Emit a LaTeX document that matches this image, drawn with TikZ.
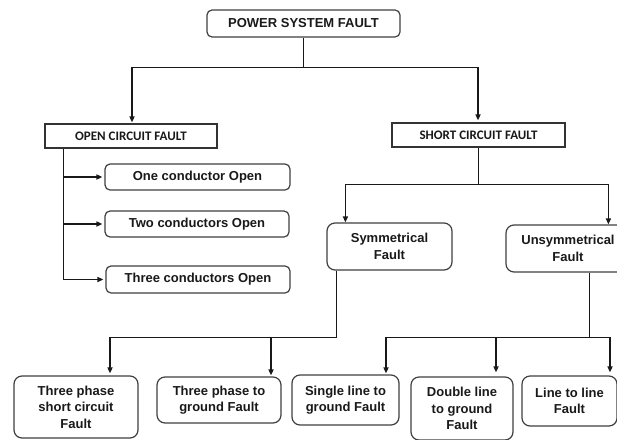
\documentclass[tikz,border=0pt]{standalone}
\usepackage{fontspec}
\setmainfont{Liberation Sans}
\newfontfamily\carlito{Carlito}
\usetikzlibrary{arrows.meta,calc}
\begin{document}
\begin{tikzpicture}[x=1pt,y=-1pt,
  conn/.style={line width=1.5pt,draw=black!90},
  arr/.style={conn,-{Triangle[length=6pt,width=5pt]}},
  rbox/.style={draw=black!75,line width=1.2pt,rounded corners=5pt,align=center,inner sep=0pt,
    font=\fontsize{13}{16.5}\selectfont\bfseries,text=black!90},
  rrbox/.style={rbox,rounded corners=8pt},
  sbox/.style={draw=black!80,line width=1.2pt,inner sep=0pt,
    font=\carlito\fontsize{13}{16}\selectfont\bfseries,text=black!90}]
\useasboundingbox[fill=white] (0,0) rectangle (617,439);
% nodes
\node[rbox,minimum width=193pt,minimum height=27pt] (top) at (303.5,23.5) {POWER SYSTEM FAULT};
\node[sbox,minimum width=172pt,minimum height=24pt] (open) at (131,136) {OPEN CIRCUIT FAULT};
\node[sbox,minimum width=173pt,minimum height=24pt] (short) at (478.5,135) {SHORT CIRCUIT FAULT};
\node[rbox,minimum width=185pt,minimum height=26pt] (one) at (197.5,177) {One conductor Open};
\node[rbox,minimum width=184pt,minimum height=26pt] (two) at (197,224) {Two conductors Open};
\node[rbox,minimum width=184pt,minimum height=27pt] (three) at (198,279.5) {Three conductors Open};
\node[rrbox,minimum width=125pt,minimum height=47pt] (sym) at (389.5,246.5) {Symmetrical\\Fault};
\node[rrbox,minimum width=124pt,minimum height=47pt] (unsym) at (568,248.5) {Unsymmetrical\\Fault};
\node[rrbox,minimum width=124pt,minimum height=62pt] (b1) at (76,407) {Three phase\\short circuit\\Fault};
\node[rrbox,minimum width=124pt,minimum height=46pt] (b2) at (219,400) {Three phase to\\ground Fault};
\node[rrbox,minimum width=107pt,minimum height=50pt] (b3) at (345.5,400) {Single line to\\ground Fault};
\node[rrbox,minimum width=102pt,minimum height=63pt] (b4) at (462,408.5) {Double line\\to ground\\Fault};
\node[rrbox,minimum width=95pt,minimum height=50pt] (b5) at (569.5,401) {Line to line\\Fault};
% top level connectors
\coordinate (j1) at ($(top.south)+(0,30)$);
\draw[conn] (top.south) -- (j1);
\draw[arr] (j1) -| ($(open.north)+(1,-1)$);
\draw[arr] (j1) -| ($(short.north)+(-0.5,-2)$);
% open circuit branches
\coordinate (oc) at ($(open.south west)+(19,0)$);
\draw[arr] (oc) |- ($(three.west)+(-2,0)$);
\draw[arr] (oc |- one.west) -- ($(one.west)+(-2,0)$);
\draw[arr] (oc |- two.west) -- ($(two.west)+(-2,0)$);
% short circuit branches
\coordinate (s1) at ($(short.south)+(0,37)$);
\coordinate (symtop) at ($(sym.north west)+(19,0)$);
\coordinate (unsymtop) at ($(unsym.north west)+(103,0)$);
\draw[conn] (short.south) -- (s1);
\draw[arr] (s1) -| (symtop);
\draw[arr] (s1) -| (unsymtop);
% symmetrical branches
\coordinate (sd) at ($(sym.south west)+(10,0)$);
\coordinate (sj) at ($(sd)+(0,67)$);
\draw[conn] (sd) -- (sj);
\draw[arr] (sj) -| ($(b1.north)+(34,-2)$);
\draw[arr] (sj) -| ($(b2.north)+(52,-1)$);
% unsymmetrical branches
\coordinate (ud) at ($(unsym.south west)+(84,0)$);
\coordinate (uj) at ($(ud)+(0,65)$);
\draw[conn] (ud) -- (uj);
\draw[arr] (uj) -| ($(b3.north)+(40.5,-1)$);
\draw[arr] (uj) -| ($(b4.north)+(34,-4)$);
\draw[arr] (uj) -| ($(b5.north)+(40.5,-3)$);
\end{tikzpicture}
\end{document}
